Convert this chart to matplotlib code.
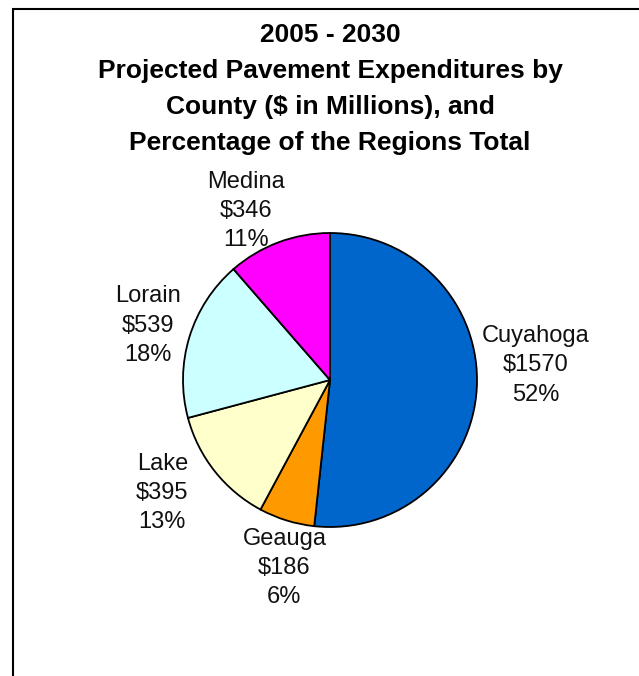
import matplotlib.pyplot as plt
from matplotlib.patches import Rectangle

plt.rcParams['font.family'] = ['Liberation Sans', 'DejaVu Sans']

counties = ['Cuyahoga', 'Geauga', 'Lake', 'Lorain', 'Medina']
spending = [1570, 186, 395, 539, 346]  # $ millions
colors = ['#0066CC', '#FF9900', '#FFFFCC', '#CCFFFF', '#FF00FF']
# label centres, in units of pie radius
label_pos = [(1.40, 0.10), (-0.31, -1.28), (-1.14, -0.77), (-1.24, 0.37), (-0.57, 1.15)]

title = ('2005 - 2030\nProjected Pavement Expenditures by\n'
         'County ($ in Millions), and\nPercentage of the Regions Total')

W, H = 639, 676
cx, cy, r = 330, 380, 147

fig = plt.figure(figsize=(W / 100, H / 100), dpi=100)
ax = fig.add_axes([0, 0, 1, 1])

ax.pie(spending, colors=colors, startangle=90, counterclock=False,
       radius=1, wedgeprops=dict(edgecolor='black', linewidth=1.3))
ax.set_xlim(-cx / r, (W - cx) / r)
ax.set_ylim(-(H - cy) / r, cy / r)
ax.set_aspect('auto')
ax.axis('off')

total = sum(spending)
for name, val, (x, y) in zip(counties, spending, label_pos):
    pct = round(100 * val / total)
    ax.text(x, y, f'{name}\n${val}\n{pct}%', ha='center', va='center',
            fontsize=17, color='#111111', linespacing=1.43)

fig.text(cx / W, 1 - 23 / H, title, ha='center', va='top', fontsize=19,
         fontweight='bold', linespacing=1.63)

fig.patches.append(Rectangle((12.5 / W, -0.05), 1.1, 1.05 - 9.5 / H,
                             transform=fig.transFigure, fill=False,
                             edgecolor='black', linewidth=1.5))

fig.savefig('out.png', dpi=100)
